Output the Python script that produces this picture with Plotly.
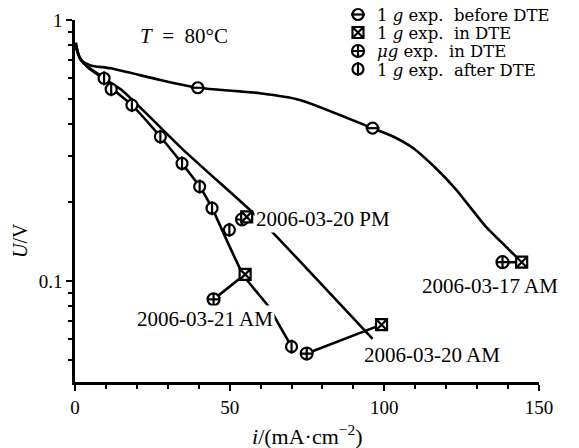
import numpy as np
import plotly.graph_objects as go

# ---------------- data ----------------
# 2006-03-17 AM polarisation curve (1 g before DTE)
curve_0317_x = [0.3, 1, 2, 5, 11.5, 27.6, 39.7, 59.8, 72.7, 96.2, 103, 109.5, 116, 123.2, 132.9, 142.6, 144.4]
curve_0317_y = [0.82, 0.74, 0.70, 0.67, 0.653, 0.589, 0.55, 0.524, 0.494, 0.385, 0.357, 0.322, 0.275, 0.224, 0.161, 0.124, 0.118]

# long straight curve ending near 2006-03-20 AM
curve_0320_x = [0.3, 1.5, 4, 8, 15, 35, 57.2, 63.1, 96.2]
curve_0320_y = [0.80, 0.72, 0.66, 0.61, 0.54, 0.318, 0.184, 0.157, 0.060]

# curve after DTE
curve_after_x = [0.3, 2, 5, 9.4, 11.7, 18.4, 27.6, 34.6, 40.3, 44.3, 54.5, 62.5, 65.7, 70]
curve_after_y = [0.78, 0.70, 0.65, 0.598, 0.55, 0.472, 0.357, 0.282, 0.23, 0.19, 0.105, 0.080, 0.0688, 0.056]

# markers
before_x = [39.7, 96.2]
before_y = [0.55, 0.385]

in_1g_x = [144.4, 55.5, 55.0, 99.1]
in_1g_y = [0.118, 0.176, 0.106, 0.068]

in_mug_x = [138.2, 54.0, 44.8, 74.9]
in_mug_y = [0.118, 0.172, 0.085, 0.0527]

after_x = [9.4, 11.7, 18.4, 27.6, 34.6, 40.3, 44.3, 49.9, 70]
after_y = [0.598, 0.543, 0.472, 0.357, 0.282, 0.23, 0.19, 0.157, 0.056]

date_labels = ["2006-03-17 AM", "2006-03-20 PM", "2006-03-21 AM", "2006-03-20 AM"]
legend_labels = ["1 <i>g</i> exp.&nbsp; before DTE", "1 <i>g</i> exp.&nbsp; in DTE",
                 "<i>μg</i> exp.&nbsp; in DTE", "1 <i>g</i> exp.&nbsp; after DTE"]

x_ticks = [0, 50, 100, 150]
y_ticks = [0.1, 1]
y_ticktext = ["0.1", "1"]

# ---------------- layout helpers (pixel -> paper) ----------------
W, H = 579, 448
ML, MR, MT, MB = 75, 40, 2, 66
PLOT_TOP_PX = 20
PW = W - ML - MR
PH = H - MT - MB


def px(xp):
    return (xp - ML) / PW


def py(yp):
    return (H - MB - yp) / PH


FONT = "Liberation Serif"
LEG_FONT = "DejaVu Serif"
fig = go.Figure()

line_style = dict(color="black", width=2.6)

fig.add_trace(go.Scatter(x=curve_0317_x, y=curve_0317_y, mode="lines",
                         line=dict(shape="spline", smoothing=0.6, **line_style)))
fig.add_trace(go.Scatter(x=curve_0320_x, y=curve_0320_y, mode="lines",
                         line=dict(shape="spline", smoothing=0.5, **line_style)))
fig.add_trace(go.Scatter(x=curve_after_x, y=curve_after_y, mode="lines",
                         line=dict(shape="spline", smoothing=0.5, **line_style)))

# DTE connector segments (mu g -> 1 g)
for i in range(len(in_1g_x)):
    fig.add_trace(go.Scatter(x=[in_mug_x[i], in_1g_x[i]], y=[in_mug_y[i], in_1g_y[i]],
                             mode="lines", line=line_style))

msize = 11
mline = dict(color="black", width=2.2)


def circle_bar(xs, ys, bar, xaxis="x", yaxis="y"):
    fig.add_trace(go.Scatter(x=xs, y=ys, mode="markers", xaxis=xaxis, yaxis=yaxis,
                             marker=dict(symbol="circle", size=msize, color="white", line=mline)))
    fig.add_trace(go.Scatter(x=xs, y=ys, mode="markers", xaxis=xaxis, yaxis=yaxis,
                             marker=dict(symbol=bar, size=msize - 1, color="black", line=mline)))


circle_bar(before_x, before_y, "line-ew")
circle_bar(after_x, after_y, "line-ns")
fig.add_trace(go.Scatter(x=in_mug_x, y=in_mug_y, mode="markers",
                         marker=dict(symbol="circle-cross", size=msize + 1, color="white", line=mline)))
fig.add_trace(go.Scatter(x=in_1g_x, y=in_1g_y, mode="markers",
                         marker=dict(symbol="square-x", size=msize, color="white", line=mline)))

# legend symbols on a full-paper helper subplot (x2/y2 = paper fractions)
leg_mx = px(358)
leg_rows_px = [14.5, 32.5, 51, 69]
leg_my = [py(v) for v in leg_rows_px]
circle_bar([leg_mx], [leg_my[0]], "line-ew", "x2", "y2")
fig.add_trace(go.Scatter(x=[leg_mx], y=[leg_my[1]], mode="markers", xaxis="x2", yaxis="y2",
                         marker=dict(symbol="square-x", size=msize, color="white", line=mline)))
fig.add_trace(go.Scatter(x=[leg_mx], y=[leg_my[2]], mode="markers", xaxis="x2", yaxis="y2",
                         marker=dict(symbol="circle-cross", size=msize + 1, color="white", line=mline)))
circle_bar([leg_mx], [leg_my[3]], "line-ns", "x2", "y2")

annotations = []
for lab, yp in zip(legend_labels, leg_rows_px):
    annotations.append(dict(x=px(375), y=py(yp + 1.0), xref="paper", yref="paper", text=lab,
                            showarrow=False, xanchor="left", yanchor="middle",
                            font=dict(family=LEG_FONT, size=16.5, color="black")))

date_pos_px = [(490, 285.5), (323, 219), (205, 319), (431.7, 354.5)]
for lab, (xp, yp) in zip(date_labels, date_pos_px):
    annotations.append(dict(x=px(xp), y=py(yp), xref="paper", yref="paper", text=lab, showarrow=False,
                            xanchor="center", yanchor="middle", bgcolor="white", borderpad=1,
                            font=dict(family=FONT, size=21, color="black")))

annotations.append(dict(x=px(184), y=py(35.7), xref="paper", yref="paper",
                        text="<i>T</i> &nbsp;= &nbsp;80°C", showarrow=False,
                        xanchor="center", yanchor="middle",
                        font=dict(family=FONT, size=21, color="black")))
annotations.append(dict(x=px(307), y=py(435), xref="paper", yref="paper",
                        text="<i>i</i>/(mA·cm<sup>−2</sup>)", showarrow=False,
                        xanchor="center", yanchor="middle",
                        font=dict(family=FONT, size=22, color="black")))
annotations.append(dict(x=px(20), y=py(241), xref="paper", yref="paper", text="<i>U</i>/V",
                        showarrow=False, textangle=-90, xanchor="center", yanchor="middle",
                        font=dict(family=FONT, size=20, color="black")))

fig.update_layout(
    width=W, height=H,
    margin=dict(l=ML, r=MR, t=MT, b=MB, autoexpand=False),
    paper_bgcolor="white", plot_bgcolor="rgba(0,0,0,0)",
    showlegend=False,
    annotations=annotations,
    xaxis=dict(domain=[0, 1], range=[0, 150], showline=True, linewidth=2.5, linecolor="black",
               automargin=False,
               ticks="outside", ticklen=6, tickwidth=2, tickcolor="black",
               tickvals=x_ticks, showgrid=False, zeroline=False,
               minor=dict(tickvals=list(range(10, 150, 10)), ticks="outside", ticklen=4,
                          tickwidth=2, tickcolor="black"),
               tickfont=dict(family=FONT, size=19, color="black")),
    yaxis=dict(domain=[0, py(PLOT_TOP_PX)], type="log", range=[np.log10(0.041), 0.0],
               showline=True, linewidth=2.5, automargin=False,
               linecolor="black", ticks="outside", ticklen=6, tickwidth=2, tickcolor="black",
               tickvals=y_ticks, ticktext=y_ticktext, showgrid=False, zeroline=False,
               minor=dict(tickvals=[0.05, 0.06, 0.07, 0.08, 0.09, 0.2, 0.3, 0.4, 0.5, 0.6, 0.7, 0.8, 0.9],
                          ticks="outside", ticklen=4, tickwidth=2, tickcolor="black"),
               tickfont=dict(family=FONT, size=19, color="black")),
    xaxis2=dict(domain=[0, 1], range=[0, 1], visible=False, anchor="y2", fixedrange=True,
                automargin=False),
    yaxis2=dict(domain=[0, 1], range=[0, 1], visible=False, anchor="x2", fixedrange=True,
                automargin=False),
)

fig.write_html("out.html", config={"displayModeBar": False},
               post_script="document.body.style.margin='0';document.body.style.overflow='hidden';")
